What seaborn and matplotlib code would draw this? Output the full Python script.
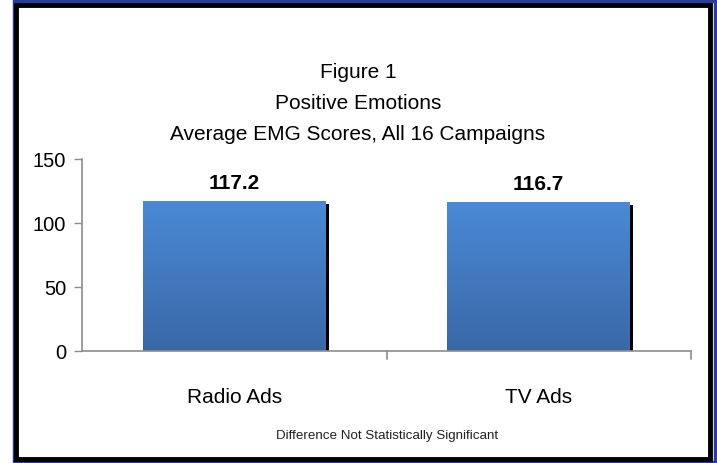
import numpy as np
import pandas as pd
import matplotlib
matplotlib.use("Agg")
import matplotlib.pyplot as plt
from matplotlib.patches import Rectangle
from matplotlib.colors import LinearSegmentedColormap
import seaborn as sns

# Data
categories = ["Radio Ads", "TV Ads"]
scores = [117.2, 116.7]
y_ticks = [0, 50, 100, 150]
title_lines = ["Figure 1", "Positive Emotions", "Average EMG Scores, All 16 Campaigns"]
footnote = "Difference Not Statistically Significant"

sns.set_theme(style="white")
plt.rcParams["font.family"] = ["Liberation Sans", "DejaVu Sans"]

W, H = 717, 464
fig = plt.figure(figsize=(W / 100, H / 100), dpi=100)
fig.patch.set_facecolor("white")


def fx(px):
    return px / W


def fy(py):
    return 1 - py / H


# Frame: outer blue line with a heavy black inner line
fig.patches.append(Rectangle((fx(13.5), fy(462.5)), fx(715) - fx(13.5), fy(1.5) - fy(462.5),
                             transform=fig.transFigure, fill=False, edgecolor="#2b3a9e",
                             linewidth=2.5, zorder=0))
fig.patches.append(Rectangle((fx(16), fy(459.5)), fx(710) - fx(16), fy(5.5) - fy(459.5),
                             transform=fig.transFigure, fill=False, edgecolor="black",
                             linewidth=3.5, zorder=1))

ax = fig.add_axes([fx(82), fy(352), fx(691) - fx(82), fy(160) - fy(352)])
df = pd.DataFrame({"category": categories, "score": scores})
sns.barplot(data=df, x="category", y="score", ax=ax, color="#4a84c8", width=0.6,
            saturation=1, edgecolor="none", linewidth=0)

# Vertical gradient fill with a dark shadow on each bar's right side
cmap = LinearSegmentedColormap.from_list("barfill", ["#3a68a6", "#4a8ad6"])
grad = np.linspace(0, 1, 256).reshape(-1, 1)
for patch, val in zip(ax.patches[:len(scores)], scores):
    x0, w = patch.get_x(), patch.get_width()
    sh = Rectangle((x0 + w, 0), 0.011, val - 2.5, facecolor="black", edgecolor="none", zorder=1.5)
    ax.add_patch(sh)
    im = ax.imshow(grad, extent=[x0, x0 + w, 0, val], origin="lower", cmap=cmap,
                   aspect="auto", zorder=2)
    im.set_clip_path(patch)
    patch.set_facecolor("none")
    ax.text(x0 + w / 2, val + 7, f"{val:.1f}", ha="center", va="bottom",
            fontsize=15, fontweight="bold", color="black")

ax.set_aspect("auto")
ax.set_xlim(-0.5, 1.5)
ax.set_ylim(0, 150)
ax.set_yticks(y_ticks)
ax.set_yticklabels([str(t) for t in y_ticks])
ax.set_xticks([0, 1])
ax.set_xticklabels(categories)
ax.set_xlabel("")
ax.set_ylabel("")
ax.tick_params(axis="x", length=0, pad=26, labelsize=15, labelcolor="black")
ax.tick_params(axis="y", left=True, length=5.8, width=1, color="#8c8c8c", pad=5.5,
               labelsize=14.5, labelcolor="black")
for side in ["top", "right"]:
    ax.spines[side].set_visible(False)
for side in ["left", "bottom"]:
    ax.spines[side].set_color("#8c8c8c")
    ax.spines[side].set_linewidth(1.2)

# Category-boundary ticks below the axis
for xb in [0.5, 1.5]:
    ax.plot([xb, xb], [0, -6], color="#8c8c8c", lw=1.2, clip_on=False)
ax.set_ylim(0, 150)

# Titles and footnote
for i, line in enumerate(title_lines):
    fig.text(fx(358), fy(72 + 31.5 * i), line, ha="center", va="center",
             fontsize=15, color="black")
fig.text(fx(387), fy(436), footnote, ha="center", va="center", fontsize=9.6, color="#222222")

fig.savefig("out.png", dpi=100, facecolor="white")
